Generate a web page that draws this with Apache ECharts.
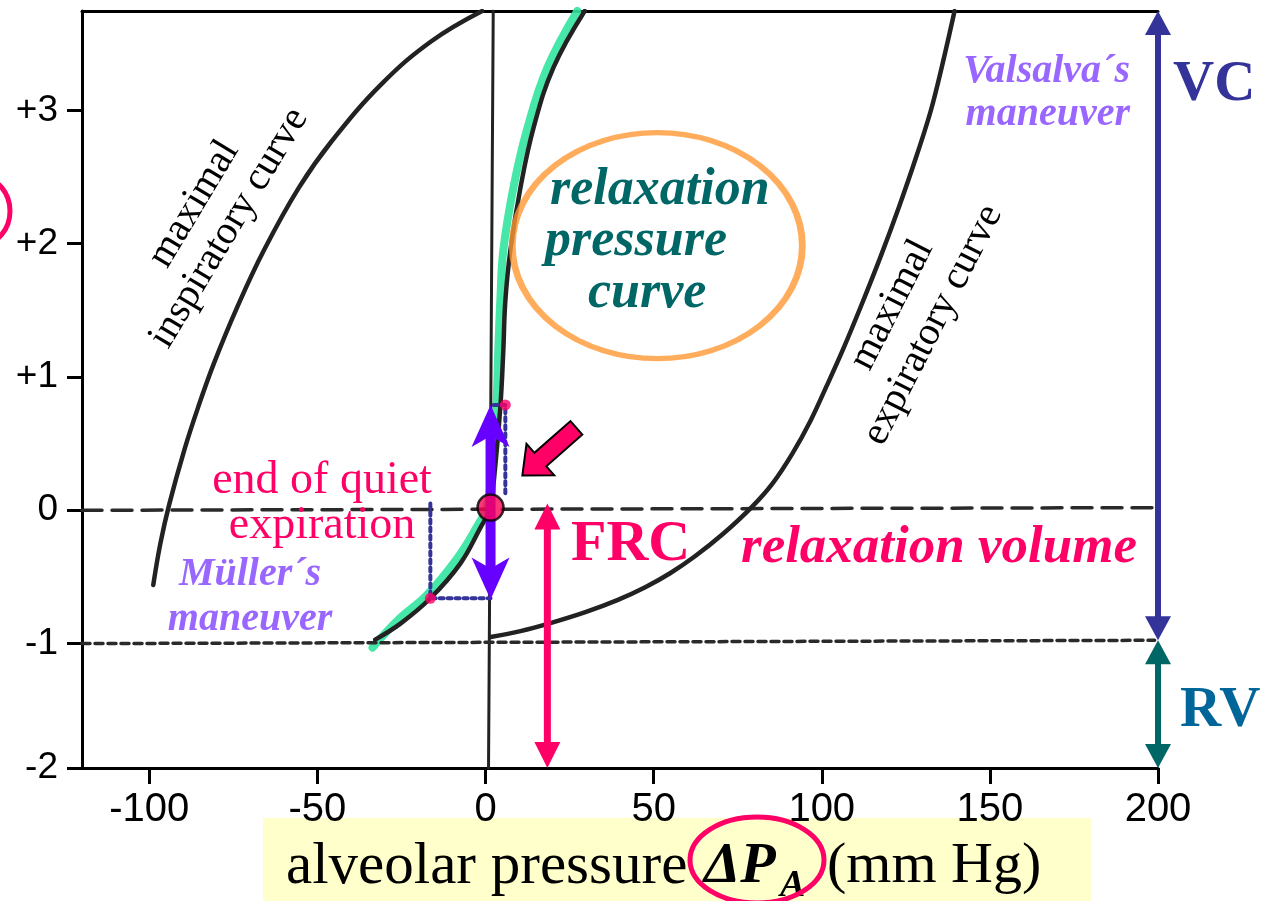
<!DOCTYPE html>
<html><head><meta charset="utf-8">
<script src="https://cdn.jsdelivr.net/npm/echarts@6/dist/echarts.min.js"></script>
<style>html,body{margin:0;padding:0;background:#fff}#c{width:1266px;height:901px}</style>
</head><body><div id="c"></div>
<script>
// ---- data ----
const xTickValues = [-100, -50, 0, 50, 100, 150, 200];
const yTickValues = [-1.933, -1, 0, 1, 2, 3];
const yTickLabels = ['-2', '-1', '0', '+1', '+2', '+3'];

const inspiratoryCurve = [[-98.8,-0.56],[-96.7,-0.25],[-94.0,0.05],[-89.6,0.45],[-85.5,0.77],[-80.8,1.10],[-73.9,1.52],[-65.9,1.95],[-55.5,2.42],[-45.7,2.77],[-30.8,3.20],[-16.0,3.52],[-1.0,3.745]];
const relaxationCurve = [[-32.8,-0.97],[-25.3,-0.85],[-16.4,-0.66],[-7.5,-0.40],[-1.5,-0.13],[1.5,0.02],[2.4,0.20],[4.4,0.77],[5.3,1.20],[5.9,1.57],[7.4,1.95],[10.4,2.42],[14.3,2.87],[20.2,3.32],[29.5,3.745]];
const relaxationHighlight = [[-33.6,-1.03],[-25.9,-0.82],[-17.6,-0.64],[-8.7,-0.37],[-2.7,-0.13],[0.3,0.02],[1.5,0.20],[3.2,0.77],[3.8,1.20],[4.4,1.57],[5.3,1.95],[8.3,2.42],[12.5,2.87],[18.4,3.32],[27.3,3.745]];
const expiratoryCurve = [[1.5,-0.951],[10.4,-0.906],[19.3,-0.846],[29.7,-0.764],[39.2,-0.674],[47.5,-0.577],[54.9,-0.472],[62.3,-0.345],[70.5,-0.180],[79.1,0.022],[85.4,0.202],[91.3,0.427],[96.7,0.674],[101.4,0.929],[106.2,1.199],[111.5,1.521],[117.5,1.903],[123.1,2.285],[128.2,2.659],[133.0,3.049],[139.5,3.745]];
const zeroPressureLine = [[2.3,3.745],[0.9,-1.933]];
const frcLevel = [[-120,0.0],[198.8,0.02]];
const rvLevel = [[-120,-1.0],[199,-0.975]];
const valsalvaGuide = [[2.4,0.79],[5.9,0.79],[5.9,0.10]];
const mullerGuide = [[-16.4,0.05],[-16.4,-0.66],[1.5,-0.66]];
const maneuverPoints = [[5.9,0.79],[-16.4,-0.66]];
const restPoint = [[1.5,0.02]];
const vcArrow = [[200,3.745,-0.975]];
const rvArrow = [[200,-0.975,-1.933]];
const frcArrow = [[18.4,0.05,-1.933]];
const tidalArrow = [[1.5,0.79,-0.67]];
const pointerArrow = [[19.0,0.44]];
const relaxationEllipse = [[51.1,1.985]];

// ---- rendering ----
const SERIF = '"Liberation Serif","Times New Roman",serif';
const SANS = '"Liberation Sans",Arial,sans-serif';
const chart = echarts.init(document.getElementById('c'), null, {renderer: 'canvas'});

function vArrow(color, shaft, headW, headL, notch) {
  return function (params, api) {
    const a = api.coord([api.value(0), api.value(1)]);
    const b = api.coord([api.value(0), api.value(2)]);
    const x = a[0], top = Math.min(a[1], b[1]), bot = Math.max(a[1], b[1]);
    const hw = headW / 2;
    return {type: 'group', children: [
      {type: 'rect', shape: {x: x - shaft / 2, y: top + headL - notch - 1, width: shaft, height: bot - top - 2 * (headL - notch) + 2}, style: {fill: color}},
      {type: 'polygon', shape: {points: [[x, top], [x + hw, top + headL], [x, top + headL - notch], [x - hw, top + headL]]}, style: {fill: color}},
      {type: 'polygon', shape: {points: [[x, bot], [x + hw, bot - headL], [x, bot - headL + notch], [x - hw, bot - headL]]}, style: {fill: color}}
    ]};
  };
}
function blockArrow(params, api) {
  const c = api.coord([api.value(0), api.value(1)]);
  const th = Math.atan2(44, -50);
  const pts = [[-36,-9],[12,-9],[12,-21],[36,0],[12,21],[12,9],[-36,9]].map(function (p) {
    return [c[0] + p[0] * Math.cos(th) - p[1] * Math.sin(th), c[1] + p[0] * Math.sin(th) + p[1] * Math.cos(th)];
  });
  return {type: 'polygon', shape: {points: pts}, style: {fill: '#ff0066', stroke: '#000', lineWidth: 2}};
}
function txt(x, y, text, font, fill, align, rot) {
  return {type: 'text', x: x, y: y, rotation: (rot || 0) * Math.PI / 180, z: 100,
    style: {text: text, font: font, fill: fill, align: align || 'left', textAlign: align || 'left', verticalAlign: 'middle', textVerticalAlign: 'middle'}};
}
function lineSeries(data, color, width, type, smooth, z, opacity) {
  return {type: 'line', data: data, showSymbol: false, symbol: 'none', smooth: smooth, z: z, silent: true,
    lineStyle: {color: color, width: width, type: type || 'solid', opacity: opacity == null ? 1 : opacity, cap: 'round', join: 'round'}};
}

const option = {
  animation: false,
  backgroundColor: '#fff',
  grid: {left: 82, right: 108, top: 11, bottom: 133, containLabel: false},
  xAxis: [{
    type: 'value', min: -120, max: 200, position: 'bottom',
    axisLine: {show: true, onZero: false, lineStyle: {color: '#000', width: 3}},
    axisTick: {show: true, length: 16, customValues: xTickValues, lineStyle: {color: '#000', width: 3}},
    axisLabel: {customValues: xTickValues, fontSize: 40, fontFamily: SANS, color: '#000', margin: 22},
    splitLine: {show: false}
  }, {
    type: 'value', min: -120, max: 200, position: 'top',
    axisLine: {show: true, onZero: false, lineStyle: {color: '#000', width: 3}},
    axisTick: {show: false}, axisLabel: {show: false}, splitLine: {show: false}
  }],
  yAxis: {
    type: 'value', min: -1.933, max: 3.745,
    axisLine: {show: true, onZero: false, lineStyle: {color: '#000', width: 3}},
    axisTick: {show: true, length: 15, customValues: yTickValues, lineStyle: {color: '#000', width: 3}},
    axisLabel: {customValues: yTickValues, fontSize: 37, fontFamily: SANS, color: '#000', margin: 24,
      formatter: function (v) { const i = yTickValues.findIndex(function (t) { return Math.abs(t - v) < 1e-6; }); return i >= 0 ? yTickLabels[i] : ''; }},
    splitLine: {show: false}
  },
  series: [
    lineSeries(relaxationHighlight, '#33e3a0', 8, 'solid', 0.4, 1, 0.9),
    lineSeries(zeroPressureLine, '#222', 3, 'solid', false, 2),
    lineSeries(inspiratoryCurve, '#222', 4.5, 'solid', 0.4, 3),
    lineSeries(relaxationCurve, '#222', 4.5, 'solid', 0.4, 3),
    lineSeries(expiratoryCurve, '#222', 4.5, 'solid', 0.35, 3),
    lineSeries(frcLevel, '#2a2a2a', 3.5, [20, 10], false, 2),
    lineSeries(rvLevel, '#2a2a2a', 3.5, [8, 5], false, 2),
    lineSeries(valsalvaGuide, '#333399', 4, [4, 4], false, 4),
    lineSeries(mullerGuide, '#333399', 4, [4, 4], false, 4),
    {type: 'custom', renderItem: vArrow('#333399', 6, 26, 24, 0), data: vcArrow, z: 5, silent: true},
    {type: 'custom', renderItem: vArrow('#006666', 6, 26, 24, 0), data: rvArrow, z: 5, silent: true},
    {type: 'custom', renderItem: vArrow('#ff0066', 7, 26, 26, 0), data: frcArrow, z: 5, silent: true},
    {type: 'custom', renderItem: vArrow('#6600ff', 10, 38, 42, 11), data: tidalArrow, z: 5, silent: true},
    {type: 'custom', renderItem: blockArrow, data: pointerArrow, z: 6, silent: true},
    {type: 'scatter', data: relaxationEllipse, symbol: 'circle', symbolSize: [290, 226], z: 4, silent: true,
      itemStyle: {color: 'rgba(0,0,0,0)', borderColor: '#ff9933', borderWidth: 6}},
    {type: 'scatter', data: maneuverPoints, symbol: 'circle', symbolSize: 11, z: 7, silent: true, itemStyle: {color: '#ff0066'}},
    {type: 'scatter', data: restPoint, symbol: 'circle', symbolSize: 26, z: 8, silent: true,
      itemStyle: {color: '#ff0055', borderColor: '#000', borderWidth: 2.5}}
  ],
  graphic: [
    {type: 'rect', z: -10, shape: {x: 263, y: 818, width: 828, height: 90}, style: {fill: '#ffffcc'}},
    txt(286, 867, 'alveolar pressure', '59px ' + SERIF, '#000'),
    txt(704, 867, 'ΔP', 'italic bold 58px ' + SERIF, '#000'),
    txt(780, 886, 'A', 'italic bold 38px ' + SERIF, '#000'),
    txt(827, 867, '(mm Hg)', '58px ' + SERIF, '#000'),
    {type: 'ellipse', z: 101, shape: {cx: 757, cy: 860, rx: 67, ry: 43}, style: {fill: 'none', stroke: '#ff0066', lineWidth: 5}},
    {type: 'ellipse', z: 101, shape: {cx: -18, cy: 211, rx: 28, ry: 33}, style: {fill: 'none', stroke: '#ff0066', lineWidth: 5}},
    txt(194, 204, 'maximal', '40px ' + SERIF, '#000', 'center', 59),
    txt(229, 228, 'inspiratory curve', '40px ' + SERIF, '#000', 'center', 59),
    txt(892, 305, 'maximal', '40px ' + SERIF, '#000', 'center', 63),
    txt(933, 325, 'expiratory curve', '40px ' + SERIF, '#000', 'center', 63),
    txt(550, 191, 'relaxation', 'italic bold 52px ' + SERIF, '#006666'),
    txt(545, 242, 'pressure', 'italic bold 52px ' + SERIF, '#006666'),
    txt(588, 294, 'curve', 'italic bold 52px ' + SERIF, '#006666'),
    txt(1130, 72, 'Valsalva´s', 'italic bold 40px ' + SERIF, '#9966ff', 'right'),
    txt(1130, 115, 'maneuver', 'italic bold 40px ' + SERIF, '#9966ff', 'right'),
    txt(250, 575, 'Müller´s', 'italic bold 40px ' + SERIF, '#9966ff', 'center'),
    txt(250, 620, 'maneuver', 'italic bold 40px ' + SERIF, '#9966ff', 'center'),
    txt(322, 481, 'end of quiet', '46px ' + SERIF, '#ff0066', 'center'),
    txt(322, 526, 'expiration', '46px ' + SERIF, '#ff0066', 'center'),
    txt(571, 545, 'FRC', 'bold 58px ' + SERIF, '#ff0066'),
    txt(741, 548, 'relaxation volume', 'italic bold 53px ' + SERIF, '#ff0066'),
    txt(1173, 85, 'VC', 'bold 57px ' + SERIF, '#333399'),
    txt(1180, 711, 'RV', 'bold 57px ' + SERIF, '#006699')
  ]
};
chart.setOption(option);
</script></body></html>
